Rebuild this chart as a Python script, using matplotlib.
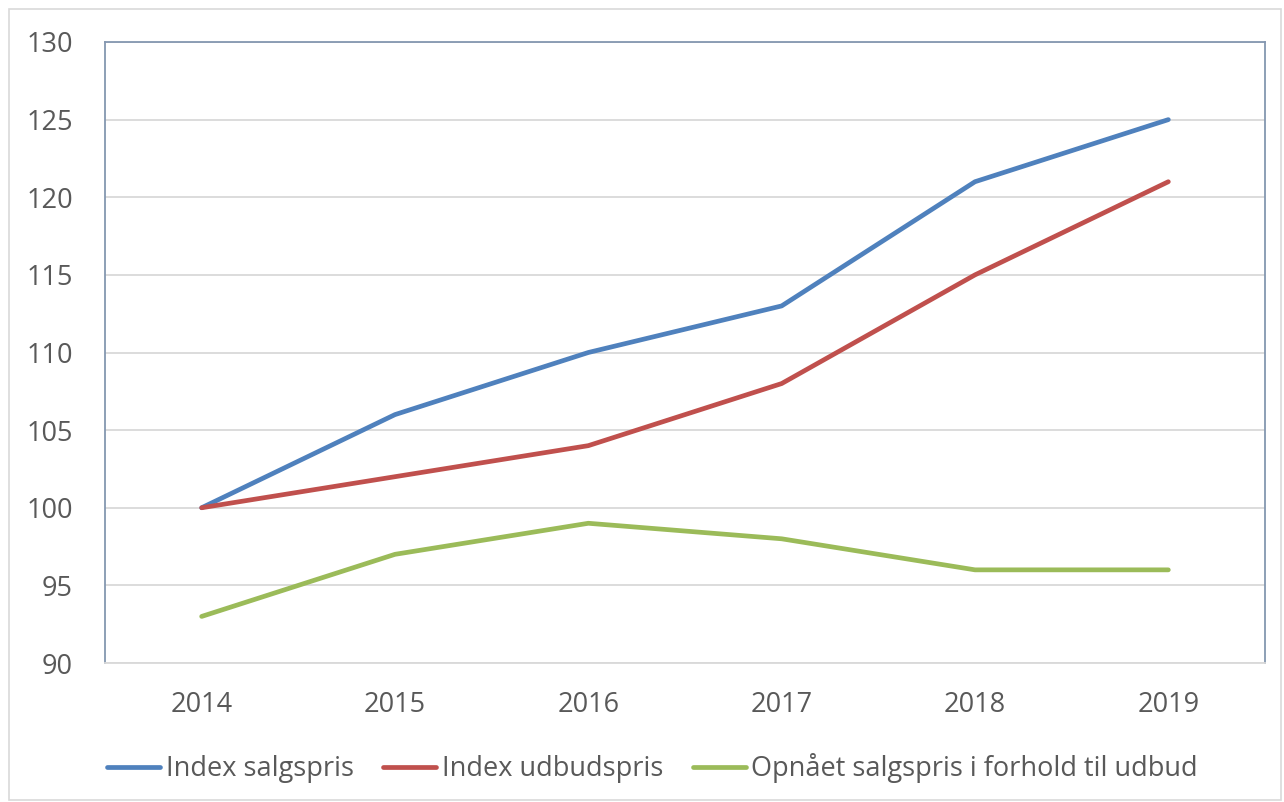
import matplotlib
matplotlib.use("Agg")
import matplotlib.pyplot as plt
from matplotlib.patches import Rectangle

years = ["2014", "2015", "2016", "2017", "2018", "2019"]
salgspris = [100, 106, 110, 113, 121, 125]
udbudspris = [100, 102, 104, 108, 115, 121]
opnaaet = [93, 97, 99, 98, 96, 96]
labels = ["Index salgspris", "Index udbudspris", "Opnået salgspris i forhold til udbud"]
colors = ["#4f81bd", "#c0504d", "#9bbb59"]
yticks = [90, 95, 100, 105, 110, 115, 120, 125, 130]

plt.rcParams['font.family'] = ['Open Sans', 'DejaVu Sans']
txt = "#595959"
fs = 19.5

fig = plt.figure(figsize=(12.84, 8.02), dpi=100)
ax = fig.add_axes([105/1284, 1-663/802, 1160/1284, 621/802])

x = list(range(len(years)))
for series, lab, c in zip([salgspris, udbudspris, opnaaet], labels, colors):
    ax.plot(x, series, color=c, lw=3.4, label=lab, solid_capstyle='round', solid_joinstyle='round', zorder=3)

ax.set_xlim(-0.5, len(years) - 0.5)
ax.set_ylim(90, 130)
ax.set_yticks(yticks)
ax.set_xticks(x)
ax.set_xticklabels(years)
ax.grid(axis='y', color='#d9d9d9', lw=1.3, zorder=0)
ax.tick_params(length=0, labelsize=fs, colors=txt)
ax.tick_params(axis='y', pad=23)
ax.tick_params(axis='x', pad=20)
for s in ['left', 'top', 'right']:
    ax.spines[s].set_color('#8497b0')
    ax.spines[s].set_linewidth(1.3)
ax.spines['bottom'].set_color('#d9d9d9')
ax.spines['bottom'].set_linewidth(1.3)

fig.legend(loc='center left', bbox_to_anchor=(83/1284, 1-768/802), ncol=3, frameon=False,
           fontsize=fs, labelcolor=txt, handlelength=1.95, handletextpad=0.2, columnspacing=1.1)

fig.patches.append(Rectangle((9/1284, 2/802), 1272/1284, 791/802, transform=fig.transFigure,
                             fill=False, edgecolor='#d9d9d9', lw=1.2))

fig.savefig("out.png", dpi=100)
